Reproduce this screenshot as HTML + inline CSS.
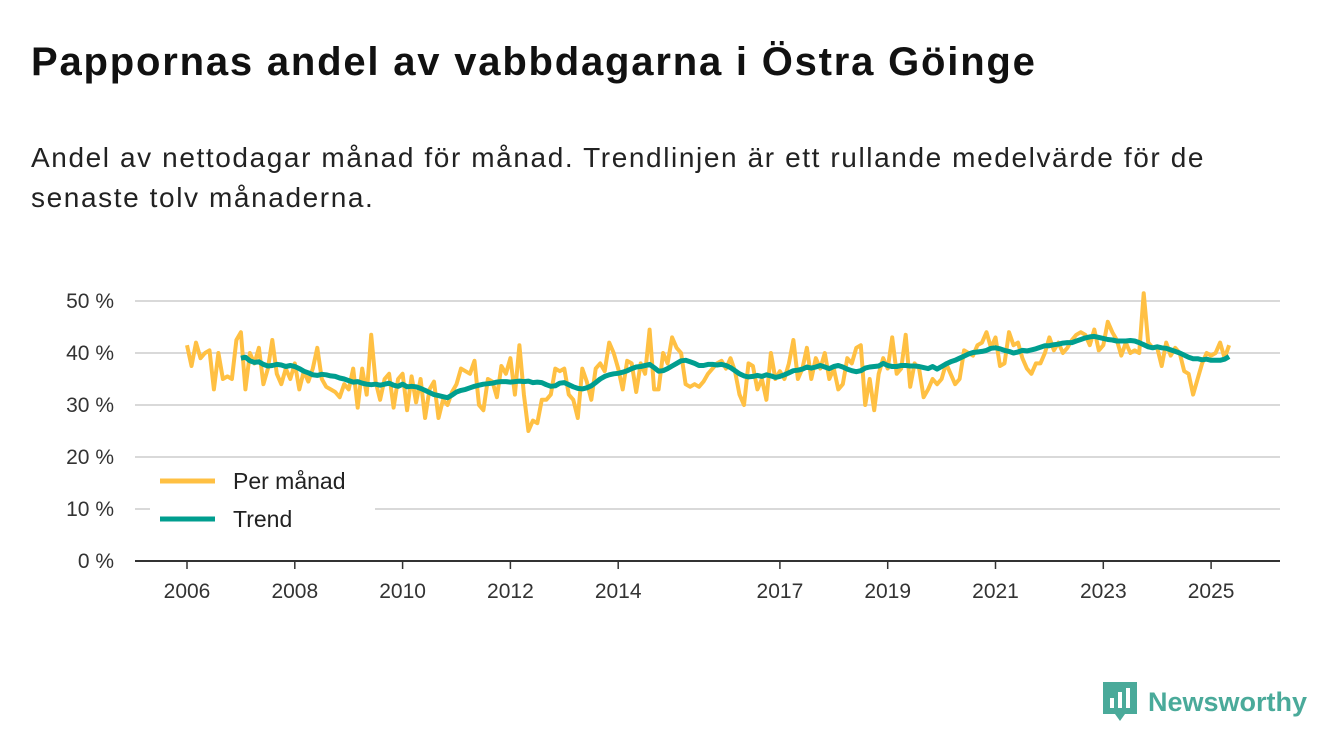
<!DOCTYPE html>
<html><head><meta charset="utf-8">
<style>
body{margin:0;background:#fff;width:1340px;height:753px;overflow:hidden;font-family:"Liberation Sans",sans-serif;}
h1{position:absolute;left:31px;top:40px;margin:0;font-size:40px;font-weight:bold;color:#111;letter-spacing:1.8px;}
.sub{position:absolute;left:31px;top:138px;margin:0;font-size:28px;line-height:40px;color:#222;width:1250px;letter-spacing:1.6px;}
svg{position:absolute;left:0;top:0;}
</style></head><body>
<h1>Pappornas andel av vabbdagarna i Östra Göinge</h1>
<p class="sub">Andel av nettodagar månad för månad. Trendlinjen är ett rullande medelvärde för de senaste tolv månaderna.</p>
<svg id="chart" width="1340" height="753"></svg>
<script>
const yTicks=[0,10,20,30,40,50];
const yTickLabels=["0 %","10 %","20 %","30 %","40 %","50 %"];
const xTicks=[2006,2008,2010,2012,2014,2017,2019,2021,2023,2025];
const monthlyStart=2006;
const monthly=[
41.5,37.5,42,39,40,40.5,33,40,35,35.5,35,42.5,
44,33,40,38,41,34,37,42.5,36,34,37,35,
38,33,36.5,34.5,37,41,35,33.5,33,32.5,31.5,34,
33,37,29.5,37,32,43.5,34.5,31,35,36,29.5,35,
36,29,35.5,30.5,35,27.5,33,34.5,27.5,31,30,32.5,
34,37,36.5,36,38.5,30,29,35,34.5,31.5,37.5,36,
39,32,41.5,32,25,27,26.5,31,31,32,37,36.5,
37,32,31,27.5,37,34.5,31,37,38,36.5,42,40,
37,33,38.5,38,32.5,38,36,44.5,33,33,40,38,
43,41,40,34,33.5,34,33.5,34.5,36,37,38,38.5,
37,39,36.5,32,30,38,37.5,33,35,31,40,35,
36.5,35,38,42.5,35,37,41,35,39,37,40,35,
37,33,34,39,38,41,41.5,30,35,29,36,39,
37,43,36,37,43.5,33.5,38,37,31.5,33,35,34,
35,38,36,34,35,40.5,40,39.5,41.5,42,44,41,
43,37.5,38,44,41.5,42,39,37,36,38,38,40,
43,40.5,42,40,41,42.5,43.5,44,43.5,41.5,44.5,40.5,
41.5,46,44,42.5,39.5,42,40,40.5,40,51.5,42,41,
41,37.5,42,39.5,41,40,36.5,36,32,35,38,40,
39.5,40,42,39,41.5];
const trendStart=2007;
const trend=[
39,39.2,38.5,38.2,38.3,37.8,37.5,37.6,37.8,37.7,37.4,37.6,
37.4,37,36.5,36.2,35.8,35.7,35.9,35.8,35.6,35.5,35.2,35.0,
34.7,34.4,34.5,34.2,34.0,33.9,34.0,33.8,34.0,34.2,33.8,33.6,
34.0,33.5,33.6,33.5,33.2,32.8,32.4,32.0,31.8,31.6,31.4,31.9,
32.5,32.8,33.0,33.3,33.6,33.8,34.0,34.1,34.2,34.4,34.5,34.5,
34.4,34.5,34.6,34.5,34.6,34.3,34.4,34.3,33.9,33.6,33.7,34.2,
34.3,33.9,33.5,33.2,33.1,33.3,33.7,34.3,35.0,35.5,35.8,36.0,
36.1,36.3,36.6,37.0,37.3,37.4,37.6,37.8,37.2,36.5,36.6,37.0,
37.5,38.0,38.5,38.6,38.3,38.0,37.6,37.6,37.8,37.8,37.7,37.8,
37.6,37.2,36.6,36.0,35.6,35.4,35.5,35.7,35.5,35.8,35.6,35.3,
35.5,35.8,36.2,36.6,36.7,36.9,37.3,37.1,37.3,37.6,37.3,37.0,
37.4,37.6,37.3,36.9,36.6,36.4,36.6,37.1,37.3,37.4,37.5,38.0,
37.6,37.4,37.4,37.6,37.6,37.5,37.5,37.4,37.2,37.0,37.4,36.9,
37.4,37.9,38.3,38.6,39.0,39.4,39.8,40.1,40.2,40.3,40.5,40.9,
41.0,40.8,40.5,40.3,40.0,40.2,40.5,40.4,40.6,40.8,41.1,41.4,
41.4,41.6,41.7,41.9,42.0,42.0,42.3,42.6,42.9,43.1,43.2,43.0,
42.8,42.6,42.5,42.3,42.3,42.3,42.4,42.3,42.0,41.6,41.2,41.0,
41.2,41.0,40.9,40.6,40.3,40.0,39.6,39.2,38.9,38.9,38.7,38.8,
38.6,38.6,38.6,38.8,39.3];

const svg=document.getElementById('chart');
const NS='http://www.w3.org/2000/svg';
const X=t=>187+(t-2006)*53.9;
const Y=v=>561-v*5.2;
function mk(tag,attrs){const e=document.createElementNS(NS,tag);for(const k in attrs)e.setAttribute(k,attrs[k]);svg.appendChild(e);return e;}

yTicks.forEach((v,i)=>{
  if(v>0){const g=mk('line',{x1:135,x2:1280,y1:Y(v),y2:Y(v),stroke:'#d9d9d9','stroke-width':2});
  
  }
  const t=mk('text',{x:114,y:Y(v)+7,'text-anchor':'end','font-size':21,fill:'#333','font-family':'Liberation Sans, sans-serif'});
  t.textContent=yTickLabels[i];
  
  
});
xTicks.forEach(yr=>{
  const l=mk('line',{x1:X(yr),x2:X(yr),y1:561,y2:569,stroke:'#333','stroke-width':1.5});
  
  
  const t=mk('text',{x:X(yr),y:598,'text-anchor':'middle','font-size':21,fill:'#333','font-family':'Liberation Sans, sans-serif'});
  t.textContent=yr;
  
  
});
const ax=mk('line',{x1:135,x2:1280,y1:561,y2:561,stroke:'#333','stroke-width':2});



const pm=monthly.map((v,i)=>X(monthlyStart+i/12).toFixed(1)+','+Y(v).toFixed(1)).join(' ');
const p1=mk('polyline',{points:pm,fill:'none',stroke:'#ffc043','stroke-width':4,'stroke-linejoin':'round'});


const pt=trend.map((v,i)=>X(trendStart+i/12).toFixed(1)+','+Y(v).toFixed(1)).join(' ');
const p2=mk('polyline',{points:pt,fill:'none',stroke:'#009e8f','stroke-width':5,'stroke-linejoin':'round'});



const legend=[['Per månad','#ffc043',481],['Trend','#009e8f',519]];
legend.forEach(([lab,c,y])=>{
  const bg=mk('rect',{x:150,y:y-17,width:225,height:34,fill:'#fff'});
  
  
  const l=mk('line',{x1:160,x2:215,y1:y,y2:y,stroke:c,'stroke-width':5});
  
  
  const t=mk('text',{x:233,y:y+8,'font-size':23,fill:'#222','font-family':'Liberation Sans, sans-serif'});
  t.textContent=lab;
  
  
});
</script>
<div style="position:absolute;left:1103px;top:682px;display:flex;align-items:center;">
<svg width="34" height="40" viewBox="0 0 34 40" style="position:static">
<path d="M0 0H34V32H22L17 39L12 32H0Z" fill="#4aaa9a"/>
<rect x="7" y="16" width="4" height="10" fill="#fff"/><rect x="15" y="10" width="4" height="16" fill="#fff"/><rect x="23" y="6" width="4" height="20" fill="#fff"/>
</svg>
<span style="margin-left:11px;font-size:27px;font-weight:bold;color:#4aaa9a;">Newsworthy</span>
</div>
</body></html>
